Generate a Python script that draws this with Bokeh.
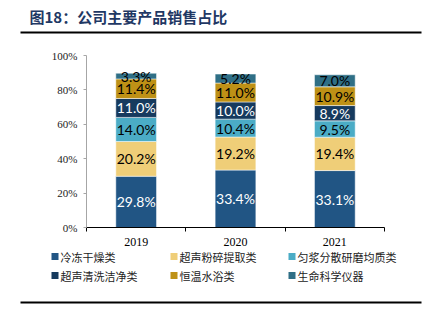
from bokeh.plotting import figure
from bokeh.models import ColumnDataSource, FixedTicker, Range1d
from bokeh.layouts import column
from bokeh.core.properties import value
from bokeh.embed import file_html
from bokeh.resources import INLINE

title = "图18：公司主要产品销售占比"
years = ["2019", "2020", "2021"]
series = ["冷冻干燥类", "超声粉碎提取类", "匀浆分散研磨均质类", "超声清洗洁净类", "恒温水浴类", "生命科学仪器"]
freeze = [29.8, 33.4, 33.1]
ultra_crush = [20.2, 19.2, 19.4]
homog = [14.0, 10.4, 9.5]
ultra_clean = [11.0, 10.0, 8.9]
water_bath = [11.4, 11.0, 10.9]
life_sci = [3.3, 5.2, 7.0]
yticks = [0, 20, 40, 60, 80, 100]

colors = ["#215584", "#EFCE78", "#4BACC6", "#163A5E", "#BE9116", "#2F6F86"]
label_colors = ["white", "black", "black", "white", "black", "black"]
values = [freeze, ultra_crush, homog, ultra_clean, water_bath, life_sci]

xs = [i + 1 for i in range(len(years))]
W = 427
HEAD_H, MAIN_H = 39, 211
FOOT_TOP = HEAD_H + MAIN_H
FOOT_H = 323 - FOOT_TOP


def blank(h, y0, y1):
    f = figure(width=W, height=h, output_backend="svg", toolbar_location=None,
               x_range=Range1d(0, W), y_range=Range1d(y1, y0),
               x_axis_type=None, y_axis_type=None, min_border=0)
    f.outline_line_color = None
    f.grid.visible = False
    f.frame_align = False
    return f


# ---- header: title + rule (coordinates = canvas pixels)
head = blank(HEAD_H, 0, HEAD_H)
head.text(x=[29], y=[16], text=[title], text_baseline="middle", text_align="left",
          text_font=value("Noto Sans CJK SC"), text_font_style="bold",
          text_font_size="15px", text_color="#1F3864")
head.segment(x0=[20], x1=[421], y0=[32], y1=[32], line_color="black", line_width=2)

# ---- main chart
p = figure(width=W, height=MAIN_H, output_backend="svg", toolbar_location=None,
           x_range=Range1d(0.5, 3.5), y_range=Range1d(0, 100),
           min_border_left=86, min_border_right=43, min_border_top=16, min_border_bottom=23)
p.outline_line_color = None
p.grid.visible = False
p.frame_align = False

data = {"x": xs}
for i, v in enumerate(values):
    data["s%d" % i] = v
src = ColumnDataSource(data)
keys = ["s%d" % i for i in range(len(values))]
p.vbar_stack(keys, x="x", width=0.41, source=src, color=colors,
             line_color="white", line_width=0.5)

for i, v in enumerate(values):
    bottoms = [sum(values[j][k] for j in range(i)) for k in range(len(years))]
    mids = [b + vv / 2 for b, vv in zip(bottoms, v)]
    lsrc = ColumnDataSource(dict(x=xs, y=mids, t=["%.1f%%" % vv for vv in v]))
    p.text(x="x", y="y", text="t", source=lsrc, text_align="center", text_baseline="middle",
           text_font=value("Lato"), text_font_size="14px", text_color=label_colors[i])

p.yaxis.ticker = FixedTicker(ticks=yticks)
p.yaxis.major_label_overrides = {t: "%d%%" % t for t in yticks}
p.yaxis.major_label_text_font = "Liberation Serif"
p.yaxis.major_label_text_font_size = "11px"
p.yaxis.major_label_text_color = "#222222"
p.yaxis.axis_line_color = "#A6A6A6"
p.yaxis.major_tick_line_color = "#A6A6A6"
p.yaxis.major_tick_out = 3
p.yaxis.major_tick_in = 0
p.yaxis.minor_tick_line_color = None
p.yaxis.major_label_standoff = 6

p.xaxis.ticker = FixedTicker(ticks=xs, minor_ticks=[0.5, 1.5, 2.5, 3.5])
p.xaxis.major_label_overrides = {x: y for x, y in zip(xs, years)}
p.xaxis.major_tick_line_color = None
p.xaxis.major_tick_out = 0
p.xaxis.minor_tick_out = 4
p.xaxis.minor_tick_in = 0
p.xaxis.minor_tick_line_color = "black"
p.xaxis.axis_line_color = "black"
p.xaxis.major_label_text_font = "Liberation Serif"
p.xaxis.major_label_text_font_size = "12px"
p.xaxis.major_label_text_color = "black"
p.xaxis.major_label_standoff = 6

# ---- footer: legend + bottom rule (coordinates = canvas pixels)
foot = blank(FOOT_H, FOOT_TOP, 323)
col_x = [51, 170, 288]
row_y = [256, 275]
lx = [col_x[i % 3] for i in range(len(series))]
ly = [row_y[i // 3] for i in range(len(series))]
foot.rect(x=[x + 3.5 for x in lx], y=ly, width=7, height=7, fill_color=colors, line_color=None)
foot.text(x=[x + 9 for x in lx], y=ly, text=series, text_baseline="middle", text_align="left",
          text_font=value("Noto Sans CJK SC"), text_font_size="11px", text_color="#222222")
foot.segment(x0=[20], x1=[421], y0=[302], y1=[302], line_color="black", line_width=2)

layout = column(head, p, foot, spacing=0)
open("out.html", "w").write(file_html(layout, INLINE))
